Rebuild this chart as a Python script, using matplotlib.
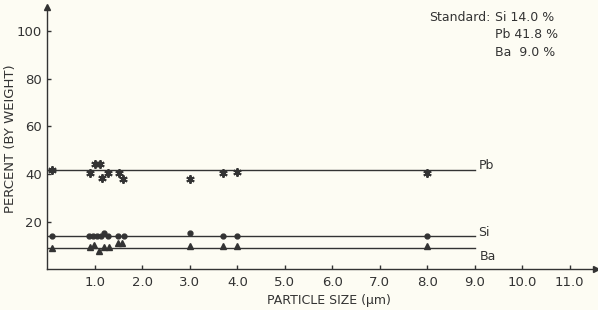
import matplotlib.pyplot as plt
import numpy as np

# standard composition (percent by weight)
std_labels = ['Si', 'Pb', 'Ba']
std_values = [14.0, 41.8, 9.0]
line_end = 9.0

pb_size = [0.1, 0.9, 1.0, 1.1, 1.15, 1.27, 1.5, 1.6, 3.0, 3.7, 4.0, 8.0]
pb_val = [41.6, 40.5, 44.2, 44.2, 38.4, 40.4, 40.6, 38.0, 38.0, 40.4, 41.0, 40.4]

si_size = [0.1, 0.88, 0.96, 1.05, 1.13, 1.2, 1.27, 1.48, 1.61, 3.0, 3.7, 4.0, 8.0]
si_val = [14.0, 14.0, 14.0, 14.0, 14.2, 15.2, 14.0, 14.0, 13.8, 15.3, 14.0, 14.0, 14.0]

ba_size = [0.1, 0.9, 0.99, 1.09, 1.2, 1.3, 1.49, 1.58, 3.0, 3.7, 4.0, 8.0]
ba_val = [9.0, 9.2, 10.4, 7.8, 9.6, 9.6, 11.0, 11.0, 10.0, 10.0, 10.0, 10.0]

x_ticks = [1, 2, 3, 4, 5, 6, 7, 8, 9, 10, 11]
y_ticks = [20, 40, 60, 80, 100]

ink = '#333333'
bg = '#fdfcf3'

fig = plt.figure(figsize=(5.98, 3.10), dpi=100, facecolor=bg)
ax = fig.add_axes([0.0794, 0.131, 0.917, 0.846], facecolor=bg)

ax.set_xlim(0, 11.55)
ax.set_ylim(0, 110)

for s in ['top', 'right']:
    ax.spines[s].set_visible(False)
for s in ['left', 'bottom']:
    ax.spines[s].set_color(ink)
    ax.spines[s].set_linewidth(1.0)

# arrow heads on axes
ax.plot([11.55], [0], marker='>', color=ink, markersize=5, clip_on=False)
ax.plot([0], [110], marker='^', color=ink, markersize=5, clip_on=False)

# standard lines
for lab, v in zip(std_labels, std_values):
    ax.plot([0, line_end], [v, v], color=ink, lw=1.0)

ax.text(line_end + 0.08, 43.4, 'Pb', fontsize=9, color=ink, va='center', ha='left')
ax.text(line_end + 0.08, 15.3, 'Si', fontsize=9, color=ink, va='center', ha='left')
ax.text(line_end + 0.1, 5.6, 'Ba', fontsize=9, color=ink, va='center', ha='left')

# measured points
ax.plot(pb_size, pb_val, ls='none', marker=(6, 2, 0), markersize=6,
        markeredgewidth=1.4, color=ink, clip_on=False)
ax.plot(si_size, si_val, ls='none', marker='o', markersize=3.5, color=ink)
ax.plot(ba_size, ba_val, ls='none', marker='^', markersize=5, color=ink)

ax.set_xticks(x_ticks)
ax.set_xticklabels(['%.1f' % t for t in x_ticks])
ax.set_yticks(y_ticks)
ax.tick_params(axis='both', direction='in', length=3, width=1, colors=ink,
               labelsize=9.5, pad=5)
ax.tick_params(axis='y', pad=4)

ax.set_xlabel('PARTICLE SIZE (μm)', fontsize=9, color=ink, va='center')
ax.xaxis.set_label_coords(0.513, -0.117)
ax.set_ylabel('PERCENT (BY WEIGHT)', fontsize=9.5, color=ink, va='center')
ax.yaxis.set_label_coords(-0.068, 0.5)

# standard composition note
ax.text(9.33, 105.8, 'Standard:', fontsize=9, color=ink, ha='right', va='center')
ax.text(9.42, 105.8, 'Si 14.0 %', fontsize=9, color=ink, ha='left', va='center')
ax.text(9.42, 98.7, 'Pb 41.8 %', fontsize=9, color=ink, ha='left', va='center')
ax.text(9.42, 90.8, 'Ba  9.0 %', fontsize=9, color=ink, ha='left', va='center')

fig.savefig('out.png', dpi=100, facecolor=bg)
